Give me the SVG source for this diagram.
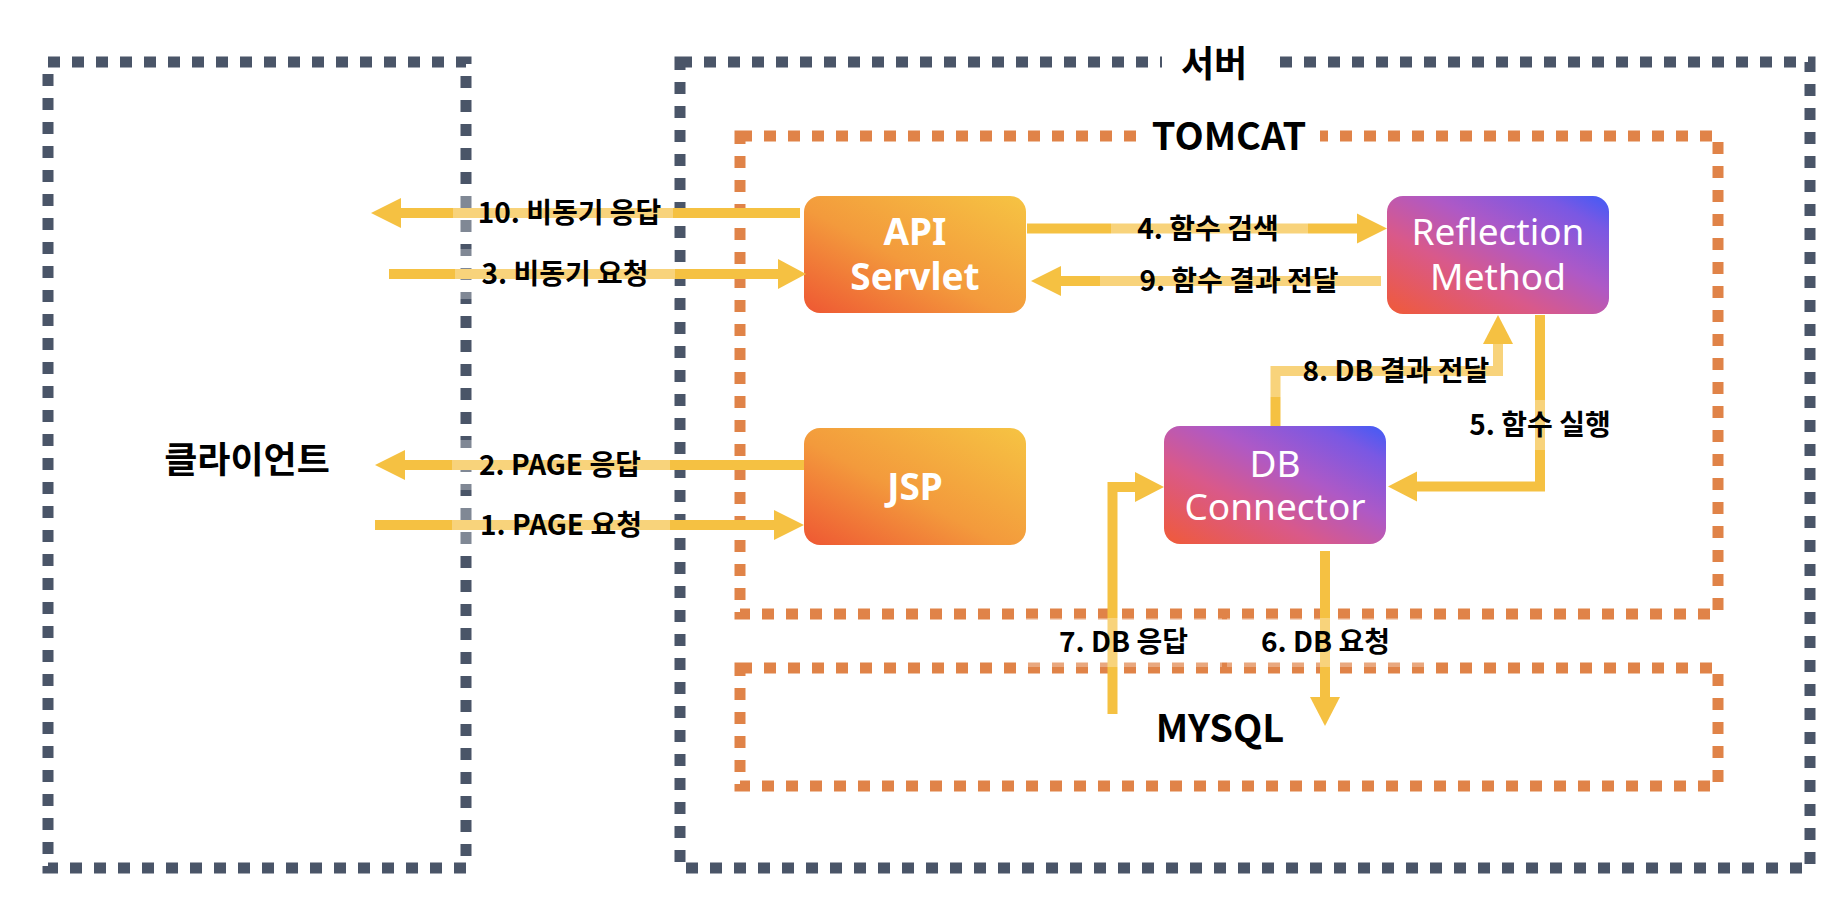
<svg xmlns="http://www.w3.org/2000/svg" width="1848" height="908" viewBox="0 0 1848 908">
<defs>
<linearGradient id="gOrange" x1="0" y1="1" x2="1" y2="0">
<stop offset="0" stop-color="#EE5733"/>
<stop offset="0.45" stop-color="#F39A3C"/>
<stop offset="1" stop-color="#F6C443"/>
</linearGradient>
<linearGradient id="gPurple" x1="0" y1="1" x2="1" y2="0">
<stop offset="0" stop-color="#F05A38"/>
<stop offset="0.35" stop-color="#D9598A"/>
<stop offset="0.6" stop-color="#AE59C6"/>
<stop offset="0.85" stop-color="#7A58E3"/>
<stop offset="1" stop-color="#3F5BF7"/>
</linearGradient>
<style>
.gbox{fill:none;stroke:#4A5568;stroke-width:11;stroke-dasharray:12 12}
.obox{fill:none;stroke:#E08348;stroke-width:11;stroke-dasharray:12 12}
.title{font-family:"Noto Sans CJK KR","Noto Sans",sans-serif;font-weight:700;fill:#000;text-anchor:middle}
.ntext{font-family:"Noto Sans","Noto Sans CJK KR",sans-serif;font-size:37px;fill:#fff;text-anchor:middle}
.bold{font-weight:700}
.line{fill:none;stroke:#F5C142;stroke-width:10;stroke-linejoin:miter}
.head{fill:#F5C142}
.lbg{fill:#fff;fill-opacity:0.3}
.lbl{font-family:"Noto Sans CJK KR","Noto Sans",sans-serif;font-weight:700;font-size:28px;fill:#000;text-anchor:middle}
</style>
</defs>
<rect width="1848" height="908" fill="#fff"/>

<g id="client">
<rect class="gbox" x="48" y="62" width="418" height="806"/>
<text class="title" x="247" y="473" font-size="36">클라이언트</text>
</g>
<g id="server">
<rect class="gbox" x="680" y="62" width="1130" height="806"/>
<rect x="1162" y="40" width="116" height="44" fill="#fff"/>
<text class="title" x="1214" y="77" font-size="36">서버</text>
</g>
<g id="tomcat">
<rect class="obox" x="740" y="136" width="978" height="478"/>
<rect x="1138" y="115" width="182" height="43" fill="#fff"/>
<text class="title" x="1229" y="150" font-size="38">TOMCAT</text>
</g>
<g id="mysql">
<rect class="obox" x="740" y="668" width="978" height="118"/>
<text class="title" x="1220" y="742" font-size="38">MYSQL</text>
</g>

<g id="api-servlet">
<rect x="804" y="196" width="222" height="117" rx="16" fill="url(#gOrange)"/>
<text class="ntext bold" x="915" y="245">API<tspan x="915" dy="45">Servlet</tspan></text>
</g>
<g id="jsp">
<rect x="804" y="428" width="222" height="117" rx="16" fill="url(#gOrange)"/>
<text class="ntext bold" x="915" y="500">JSP</text>
</g>
<g id="reflection-method">
<rect x="1387" y="196" width="222" height="118" rx="16" fill="url(#gPurple)"/>
<text class="ntext" x="1498" y="245">Reflection<tspan x="1498" dy="45">Method</tspan></text>
</g>
<g id="db-connector">
<rect x="1164" y="426" width="222" height="118" rx="16" fill="url(#gPurple)"/>
<text class="ntext" x="1275" y="477">DB<tspan x="1275" dy="43">Connector</tspan></text>
</g>

<g id="connectors">
<!-- 1. PAGE 요청 -->
<line class="line" x1="375" y1="525" x2="776" y2="525"/>
<polygon class="head" points="804,525 774,510 774,540"/>
<!-- 2. PAGE 응답 -->
<line class="line" x1="804" y1="465" x2="403" y2="465"/>
<polygon class="head" points="375,465 405,450 405,480"/>
<!-- 3. 비동기 요청 -->
<line class="line" x1="389" y1="274" x2="780" y2="274"/>
<polygon class="head" points="806,274 778,259 778,289"/>
<!-- 10. 비동기 응답 -->
<line class="line" x1="800" y1="213" x2="399" y2="213"/>
<polygon class="head" points="371,213 401,198 401,228"/>
<!-- 4. 함수 검색 -->
<line class="line" x1="1027" y1="228.5" x2="1359" y2="228.5"/>
<polygon class="head" points="1387,228.5 1357,213.5 1357,243.5"/>
<!-- 9. 함수 결과 전달 -->
<line class="line" x1="1381" y1="281" x2="1059" y2="281"/>
<polygon class="head" points="1031,281 1061,266 1061,296"/>
<!-- 5. 함수 실행 -->
<polyline class="line" points="1540,315 1540,486.5 1415,486.5"/>
<polygon class="head" points="1388,486.5 1417,471.5 1417,501.5"/>
<!-- 6. DB 요청 -->
<line class="line" x1="1325" y1="551" x2="1325" y2="699"/>
<polygon class="head" points="1325,726 1310,697 1340,697"/>
<!-- 7. DB 응답 -->
<polyline class="line" points="1112.5,714 1112.5,487 1137,487"/>
<polygon class="head" points="1164,487 1135,472 1135,502"/>
<!-- 8. DB 결과 전달 -->
<polyline class="line" points="1275.5,426 1275.5,371 1498,371 1498,342"/>
<polygon class="head" points="1498,315 1483,344 1513,344"/>

<!-- labels -->
<rect class="lbg" x="452" y="500" width="218" height="50"/>
<text class="lbl" x="561" y="535">1. PAGE 요청</text>
<rect class="lbg" x="452" y="440" width="218" height="50"/>
<text class="lbl" x="560" y="475">2. PAGE 응답</text>
<rect class="lbg" x="455" y="249" width="220" height="50"/>
<text class="lbl" x="565" y="284">3. 비동기 요청</text>
<rect class="lbg" x="453" y="188" width="220" height="50"/>
<text class="lbl" x="569.5" y="223">10. 비동기 응답</text>
<rect class="lbg" x="1111" y="203.5" width="197" height="50"/>
<text class="lbl" x="1208" y="238.5">4. 함수 검색</text>
<rect class="lbg" x="1100" y="256" width="281" height="50"/>
<text class="lbl" x="1239" y="291">9. 함수 결과 전달</text>
<rect class="lbg" x="1452" y="400" width="176" height="50"/>
<text class="lbl" x="1540" y="435">5. 함수 실행</text>
<rect class="lbg" x="1227" y="618" width="197" height="49"/>
<text class="lbl" x="1325.5" y="652">6. DB 요청</text>
<rect class="lbg" x="1025" y="618" width="197" height="49"/>
<text class="lbl" x="1123.5" y="652">7. DB 응답</text>
<rect class="lbg" x="1266" y="344" width="260" height="53"/>
<text class="lbl" x="1396" y="381">8. DB 결과 전달</text>
</g>
</svg>
